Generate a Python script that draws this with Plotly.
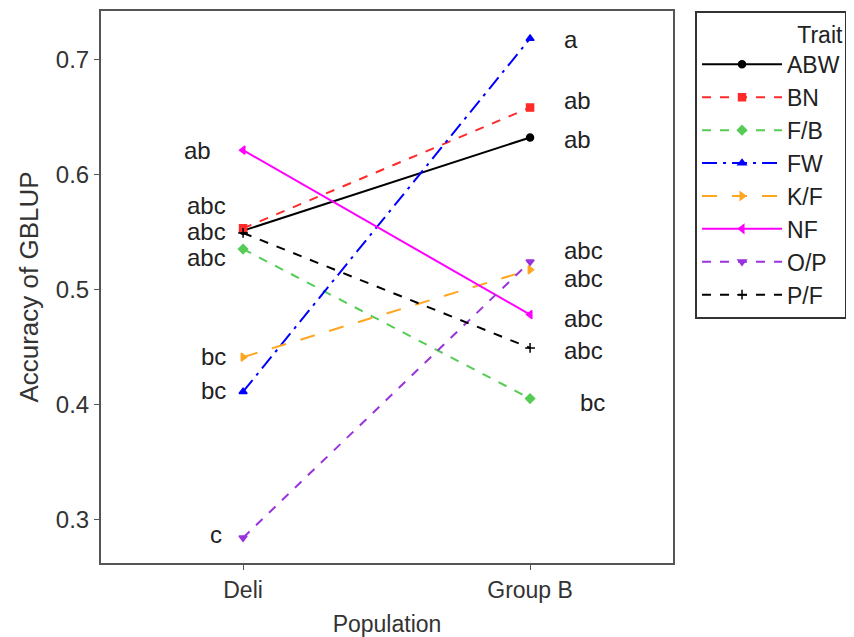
import plotly.graph_objects as go

populations = ["Deli", "Group B"]
traits = ["ABW", "BN", "F/B", "FW", "K/F", "NF", "O/P", "P/F"]
deli = [0.551, 0.553, 0.535, 0.411, 0.441, 0.621, 0.284, 0.549]
group_b = [0.632, 0.658, 0.405, 0.718, 0.517, 0.478, 0.524, 0.449]

colors = ["#000000", "#FF2A2A", "#55CC55", "#0000FF", "#FFA51F", "#FF00FF", "#9933DD", "#000000"]
dashes = ["solid", "dash", "dash", "longdashdot", "longdash", "solid", "dash", "dash"]
symbols = ["circle", "square", "diamond", "triangle-up", "triangle-right", "triangle-left", "triangle-down", "cross-thin"]

# significance letters
deli_letters = ["ab", "abc", "abc", "abc", "bc", "bc", "c"]
deli_letter_y = [0.621, 0.5725, 0.550, 0.5275, 0.442, 0.412, 0.287]
deli_letter_dx = [-31, -16, -16, -16, -16, -16, -20]
groupb_letters = ["a", "ab", "ab", "abc", "abc", "abc", "abc", "bc"]
groupb_letter_y = [0.717, 0.664, 0.630, 0.534, 0.509, 0.475, 0.447, 0.402]
groupb_letter_dx = [33, 33, 33, 33, 33, 33, 33, 49]

fig = go.Figure()
for i, t in enumerate(traits):
    fig.add_trace(go.Scatter(
        x=populations, y=[deli[i], group_b[i]], name=t, mode="lines+markers",
        legendgroup=t,
        line=dict(color=colors[i], dash=dashes[i], width=2),
        marker=dict(symbol=symbols[i], size=7,
                    color=colors[i], line=dict(color=colors[i], width=1.5)),
    ))

font_fam = "Liberation Sans, Arial, sans-serif"
lab_font = dict(size=24, color="#222222", family=font_fam)
for lab, yy, dx in zip(deli_letters, deli_letter_y, deli_letter_dx):
    fig.add_annotation(x="Deli", y=yy, text=lab, showarrow=False, xanchor="right",
                       xshift=dx, borderpad=0, font=lab_font)
for lab, yy, dx in zip(groupb_letters, groupb_letter_y, groupb_letter_dx):
    fig.add_annotation(x="Group B", y=yy, text=lab, showarrow=False, xanchor="left",
                       xshift=dx, borderpad=0, font=lab_font)

fig.update_layout(
    width=846, height=629,
    margin=dict(l=93, r=181, t=3, b=74, autoexpand=False),
    paper_bgcolor="white", plot_bgcolor="white",
    font=dict(family=font_fam, color="#333333", size=23),
    showlegend=True,
    legend=dict(
        x=1.0385, y=1.0, xanchor="left", yanchor="top",
        bordercolor="#333333", borderwidth=2,
        title=dict(text="Trait", side="top right", font=dict(size=23, color="#222222")),
        font=dict(size=23, color="#222222"),
        tracegroupgap=0, itemwidth=80,
    ),
)
fig.update_xaxes(
    range=[-0.495, 1.498], showline=True, linecolor="#555555", linewidth=2, mirror=True,
    ticks="outside", ticklen=5, tickcolor="#555555", showgrid=False, automargin=False,
    title=dict(text="Population", font=dict(size=23), standoff=16), tickfont=dict(size=23),
)
fig.update_yaxes(
    range=[0.262, 0.742], showline=True, linecolor="#555555", linewidth=2, mirror=True,
    ticks="outside", ticklen=5, tickcolor="#555555", showgrid=False, zeroline=False,
    automargin=False,
    tickvals=[0.3, 0.4, 0.5, 0.6, 0.7], ticktext=["0.3", "0.4", "0.5", "0.6", "0.7"],
    title=dict(text="Accuracy of GBLUP", font=dict(size=26), standoff=10), tickfont=dict(size=24),
)

fig.write_html("out.html")
